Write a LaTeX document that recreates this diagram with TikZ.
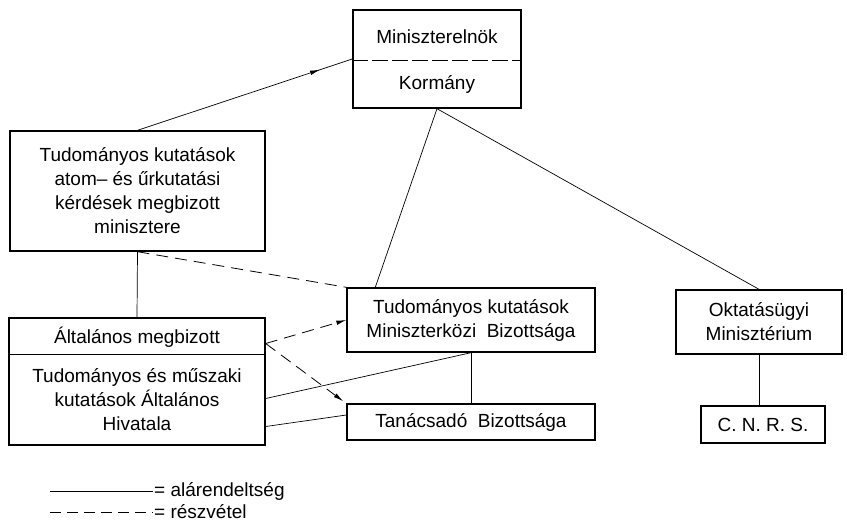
\documentclass[tikz,border=0pt]{standalone}
\usepackage{fontspec}
\setmainfont{Liberation Sans}
\usetikzlibrary{arrows.meta,decorations.markings}

\begin{document}
\begin{tikzpicture}[x=1pt,y=-1pt,
    box/.style={draw,line width=1.4pt,align=center,inner sep=0pt,font=\fontsize{19}{24}\selectfont},
    txt/.style={align=center,inner sep=0pt,font=\fontsize{19}{24}\selectfont},
    conn/.style={line width=0.7pt},
    part/.style={line width=0.8pt,dash pattern=on 12pt off 7pt},
    tip/.style={-{Latex[length=10pt,width=4.5pt]}},
    midarrow/.style={postaction={decorate},decoration={markings,mark=at position #1 with {\arrow{Latex[length=10pt,width=4.5pt]}}}}]
       \useasboundingbox (0,0) rectangle (847,525);

       % boxes
       \node[box,minimum width=168,minimum height=98] (pm) at (437,59) {};
       \node[txt] (pmname) at (437,37) {Miniszterelnök};
       \node[txt] (korm) at (437,84) {Kormány};
       \draw[line width=0.9pt,dash pattern=on 16pt off 4pt] (pm.west |- 0,60) -- (pm.east |- 0,60);

       \node[box,minimum width=255,minimum height=120] (tud) at (137.5,191)
            {Tudományos kutatások\\ atom– és űrkutatási\\ kérdések megbizott\\ minisztere};

       \node[box,minimum width=256,minimum height=127] (alt) at (137,381.5) {};
       \node[txt] (altfej) at (137,337) {Általános megbizott};
       \node[txt] (althiv) at (137,400) {Tudományos és műszaki\\ kutatások Általános\\ Hivatala};
       \draw[line width=1pt] (alt.west |- 0,354) -- (alt.east |- 0,354);

       \node[box,minimum width=248,minimum height=64] (mkb) at (471,320)
            {Tudományos kutatások\\ Miniszterközi\ \ Bizottsága};
       \node[box,minimum width=248,minimum height=36] (tan) at (471,422) {Tanácsadó\ \ Bizottsága};

       \node[box,minimum width=166,minimum height=64] (okt) at (759,322) {Oktatásügyi\\ Minisztérium};
       \node[box,minimum width=124,minimum height=37] (cnrs) at (763,424.5) {C. N. R. S.};

       % connectors
       \draw[conn,midarrow=0.85] (tud.north) -- (pm.west);
       \draw[conn] (pm.south) -- ([xshift=29pt]mkb.north west);
       \draw[conn] (pm.south) -- (okt.north);
       \draw[part] (tud.south) -- (mkb.north west);
       \draw[conn] (tud.south) -- (alt.north);
       \draw[part,tip] ([yshift=38pt]alt.east) -- (mkb.west);
       \draw[part,tip] ([yshift=38pt]alt.east) -- ([shift={(-3pt,2pt)}]tan.north west);
       \draw[conn] ([yshift=-17pt]alt.east) -- (mkb.south);
       \draw[conn] ([yshift=-45pt]alt.east) -- ([yshift=7pt]tan.west);
       \draw[conn] (mkb.south) -- (tan.north);
       \draw[conn] (okt.south) -- (okt.south |- cnrs.north);

       % legend
       \coordinate (soa) at (50,491);
       \coordinate (sob) at (153,491);
       \coordinate (dsa) at (50,512);
       \coordinate (dsb) at (153,512);
       \draw[line width=1pt] (soa) -- (sob);
       \draw[line width=1pt,dash pattern=on 11pt off 6pt] (dsa) -- (dsb);
       \node[txt,anchor=west] (solab) at ([xshift=1pt]sob) {= alárendeltség};
       \node[txt,anchor=west] (dslab) at ([xshift=1pt]dsb) {= részvétel};
   \end{tikzpicture}
\end{document}
